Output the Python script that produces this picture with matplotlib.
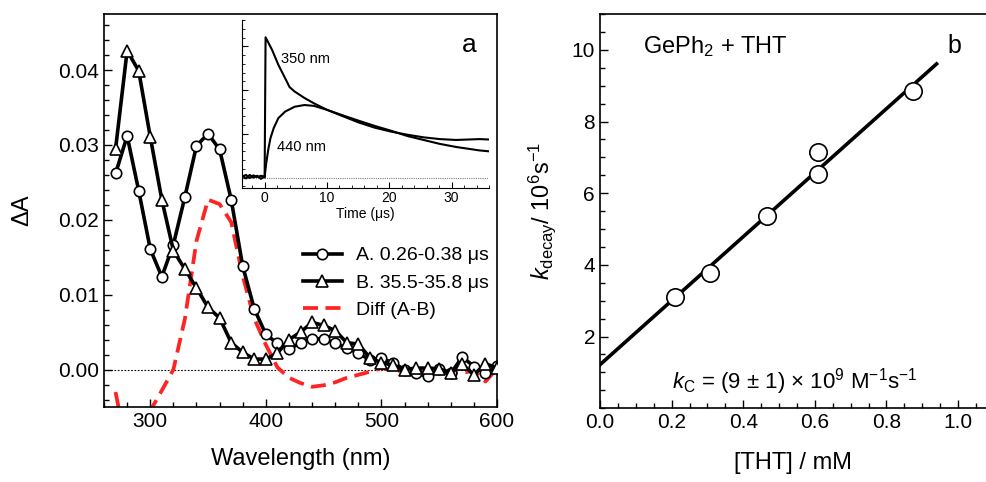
import matplotlib
matplotlib.use('Agg')
import matplotlib.pyplot as plt
import numpy as np
from matplotlib.ticker import MultipleLocator

plt.rcParams['font.family'] = ['Liberation Sans', 'DejaVu Sans']
plt.rcParams['mathtext.fontset'] = 'custom'
plt.rcParams['mathtext.rm'] = 'Liberation Sans'
plt.rcParams['mathtext.it'] = 'Liberation Sans:italic'

# panel a: transient spectra
wl = [270, 280, 290, 300, 310, 320, 330, 340, 350, 360, 370, 380, 390, 400,
      410, 420, 430, 440, 450, 460, 470, 480, 490, 500, 510, 520, 530, 540,
      550, 560, 570, 580, 590, 600]
spec_a = [0.0262, 0.0312, 0.0239, 0.0161, 0.0124, 0.0167, 0.0231, 0.0299,
          0.0315, 0.0294, 0.0227, 0.0138, 0.0081, 0.0047, 0.0035, 0.0028,
          0.0035, 0.0041, 0.0041, 0.0035, 0.0029, 0.0022, 0.0013, 0.0015,
          0.0009, 0.0000, -0.0005, -0.0009, 0.0001, -0.0005, 0.0017, 0.0004,
          -0.0005, 0.0005]
spec_b = [0.0295, 0.0426, 0.0399, 0.0311, 0.0227, 0.0159, 0.0134, 0.0109,
          0.0083, 0.0069, 0.0036, 0.0023, 0.0014, 0.0014, 0.0022, 0.0040,
          0.0050, 0.0063, 0.0059, 0.0052, 0.0036, 0.0034, 0.0016, 0.0009,
          0.0006, 0.0000, 0.0002, 0.0002, 0.0001, -0.0004, 0.0007, -0.0007,
          0.0008, 0.0002]
diff_wl = [270, 280, 290, 300, 310, 320, 330, 340, 350, 360, 370, 380, 390,
           400, 410, 420, 430, 440, 450, 460, 470, 480, 490, 500, 510, 520,
           530, 540, 550, 560, 570, 580, 590, 598]
diff_ab = [-0.0030, -0.0110, -0.0110, -0.0055, -0.0028, 0.0000, 0.0068,
           0.0172, 0.0227, 0.0221, 0.0197, 0.0125, 0.0068, 0.0033, 0.0003,
           -0.0011, -0.0018, -0.0023, -0.0021, -0.0017, -0.0011, -0.0007,
           -0.0003, 0.0002, -0.0001, -0.0002, -0.0002, -0.0004, -0.0005,
           -0.0004, -0.0004, -0.0002, -0.0016, -0.0002]

# inset: kinetic traces (normalised units)
t_350 = [-3.6, -3.0, -2.4, -1.8, -1.2, -0.6, -0.05, 0.0, 0.15, 1.2, 2.2,
         3.3, 4.0, 4.8, 6.4, 7.9, 10.0, 12.6, 15.1, 17.7, 20.3, 22.9, 25.5,
         28.1, 30.7, 34.5, 36.0]
v_350 = [0.05, -0.02, 0.06, 0.00, 0.04, -0.03, 0.02, 0.0, 3.21, 2.92, 2.58,
         2.27, 2.07, 1.97, 1.82, 1.70, 1.55, 1.40, 1.26, 1.14, 1.05, 0.98,
         0.92, 0.88, 0.86, 0.88, 0.87]
t_440 = [-3.6, -3.0, -2.4, -1.8, -1.2, -0.6, 0.0, 0.26, 0.57, 0.93, 1.45,
         2.2, 3.3, 4.8, 6.4, 7.9, 10.0, 12.6, 15.1, 17.7, 20.3, 22.9, 25.5,
         28.1, 30.7, 34.5, 36.0]
v_440 = [0.02, 0.06, -0.01, 0.05, 0.01, 0.04, 0.02, 0.33, 0.63, 0.90, 1.13,
         1.36, 1.51, 1.62, 1.66, 1.64, 1.55, 1.42, 1.30, 1.18, 1.07, 0.95,
         0.86, 0.77, 0.70, 0.62, 0.60]

# panel b: decay rate vs [THT]
conc = [0.209, 0.307, 0.466, 0.610, 0.610, 0.875]
k_decay = [3.10, 3.77, 5.37, 6.54, 7.14, 8.84]

fig = plt.figure(figsize=(9.86, 4.82), dpi=100)

ax = fig.add_axes([0.1055, 0.1556, 0.3986, 0.8154])
ax.axhline(0, color='black', lw=0.8, ls=(0, (1.5, 1.5)), zorder=1)
ax.plot(wl, spec_a, color='black', lw=2.6, marker='o', ms=7.5, mfc='white',
        mec='black', mew=1.2, label=u'A. 0.26-0.38 \u03bcs', zorder=3)
ax.plot(wl, spec_b, color='black', lw=2.6, marker='^', ms=8.5, mfc='white',
        mec='black', mew=1.2, label=u'B. 35.5-35.8 \u03bcs', zorder=3)
ax.plot(diff_wl, diff_ab, color='#ff2424', lw=2.7, dashes=(4, 2),
        label='Diff (A-B)', zorder=2)
ax.set_xlim(260, 600)
ax.set_ylim(-0.005, 0.0475)
ax.xaxis.set_major_locator(MultipleLocator(100))
ax.xaxis.set_minor_locator(MultipleLocator(20))
ax.yaxis.set_major_locator(MultipleLocator(0.01))
ax.yaxis.set_minor_locator(MultipleLocator(0.002))
ax.yaxis.set_major_formatter(matplotlib.ticker.FormatStrFormatter('%.2f'))
ax.tick_params(which='both', direction='in', top=False, right=False,
               labelsize=15)
ax.tick_params(which='major', length=6, width=1)
ax.tick_params(which='minor', length=3.5, width=1)
ax.set_xlabel('Wavelength (nm)', fontsize=17, labelpad=12)
ax.set_ylabel(u'\u0394A', fontsize=17, labelpad=18)
for s in ax.spines.values():
    s.set_linewidth(1.2)
ax.legend(loc='center left', bbox_to_anchor=(0.506, 0.3155), frameon=False,
          fontsize=14, borderpad=0, borderaxespad=0, handlelength=2.0,
          handletextpad=0.75, labelspacing=0.5)
ax.text(0.93, 0.92, 'a', transform=ax.transAxes, fontsize=19, ha='center',
        va='center')

ins = fig.add_axes([0.245, 0.609, 0.251, 0.349])
ins.axhline(0, color='gray', lw=0.8, ls=(0, (1, 1)))
ins.plot(t_350, v_350, color='black', lw=1.5)
ins.plot(t_440, v_440, color='black', lw=1.5)
ins.set_xlim(-3.7, 36)
ins.set_ylim(-0.25, 3.6)
ins.xaxis.set_major_locator(MultipleLocator(10))
ins.xaxis.set_minor_locator(MultipleLocator(2))
ins.yaxis.set_major_locator(MultipleLocator(1))
ins.yaxis.set_minor_locator(MultipleLocator(0.2))
ins.set_yticklabels([])
ins.spines['top'].set_visible(False)
ins.spines['right'].set_visible(False)
ins.patch.set_alpha(0)
ins.tick_params(which='both', direction='in', labelsize=10, pad=2)
ins.tick_params(which='major', length=4)
ins.tick_params(which='minor', length=2)
ins.set_xlabel(u'Time (\u03bcs)', fontsize=10, labelpad=1)
ins.text(2.7, 2.72, '350 nm', fontsize=10.5, va='center')
ins.text(2.0, 0.7, '440 nm', fontsize=10.5, va='center')

bx = fig.add_axes([0.6085, 0.153, 0.3915, 0.818])
fit = np.polyfit(conc, k_decay, 1)
fit_x = np.array([0.0, 0.94])
bx.plot(fit_x, np.polyval(fit, fit_x), color='black', lw=2.6, zorder=2)
bx.plot(conc, k_decay, 'o', ms=12.5, mfc='white', mec='black', mew=1.2,
        zorder=3)
bx.set_xlim(0, 1.078)
bx.set_ylim(0, 11)
bx.xaxis.set_major_locator(MultipleLocator(0.2))
bx.xaxis.set_minor_locator(MultipleLocator(0.05))
bx.yaxis.set_major_locator(MultipleLocator(2))
bx.yaxis.set_minor_locator(MultipleLocator(0.5))
bx.xaxis.set_major_formatter(matplotlib.ticker.FormatStrFormatter('%.1f'))
bx.set_yticks([2, 4, 6, 8, 10])
bx.tick_params(which='both', direction='in', top=False, right=False,
               labelsize=15)
bx.tick_params(which='major', length=6, width=1)
bx.tick_params(which='minor', length=3.5, width=1)
bx.spines['right'].set_visible(False)
for s in bx.spines.values():
    s.set_linewidth(1.2)
bx.set_xlabel('[THT] / mM', fontsize=17, labelpad=14)
bx.set_ylabel(r'$k_{\mathrm{decay}}$/ 10$^6$s$^{-1}$', fontsize=17,
              labelpad=10)
bx.text(0.12, 10.1, r'GePh$_2$ + THT', fontsize=17, va='center')
bx.text(0.99, 10.1, 'b', fontsize=18, va='center', ha='center')
bx.text(0.20, 0.75, r'$k_\mathrm{C}$ = (9 $\pm$ 1) $\times$ 10$^9$ M$^{-1}$s$^{-1}$',
        fontsize=16, va='center')

fig.savefig('out.png', dpi=100)
